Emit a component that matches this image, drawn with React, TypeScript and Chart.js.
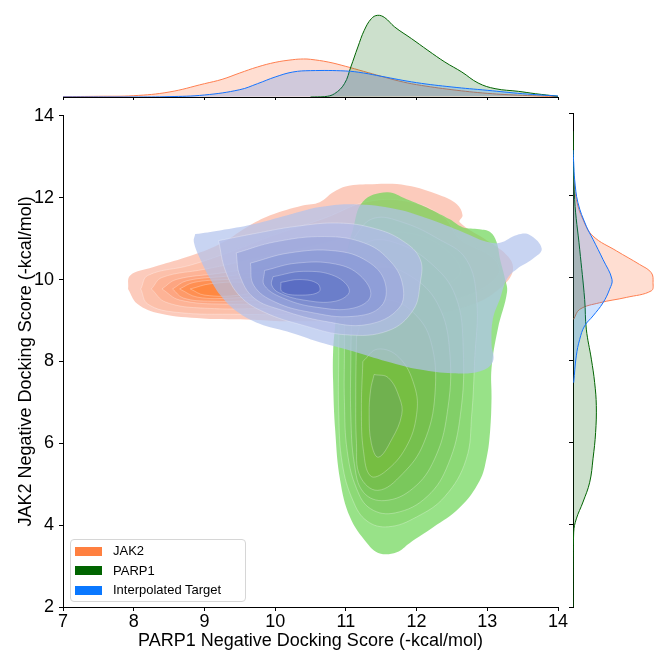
import { useEffect, useRef } from "react";
import { Chart, registerables } from "chart.js";

Chart.register(...registerables);

// ---------------- DATA ----------------
const seriesNames = ["JAK2", "PARP1", "Interpolated Target"];
const xTicks = [7, 8, 9, 10, 11, 12, 13, 14];
const yTicks = [2, 4, 6, 8, 10, 12, 14];

// JAK2 2D density contour levels (outer -> inner), [x, y]
const jak2L1 = [[7.92,9.77],[7.95,10.1],[8.27,10.3],[8.75,10.55],[9.22,10.87],[9.6,11.28],[9.93,11.57],[10.39,11.81],[10.63,11.89],[10.82,12.13],[11.01,12.28],[11.38,12.33],[11.86,12.3],[12.33,12.06],[12.57,11.84],[12.65,11.57],[12.61,11.4],[13.0,10.95],[13.3,10.55],[13.36,10.2],[13.2,9.82],[12.8,9.4],[12.0,9.1],[11.0,9.0],[10.2,8.98],[9.69,9.02],[8.98,9.05],[8.37,9.17],[8.05,9.41]];
const jak2L2 = [[8.1,9.77],[8.2,10.1],[8.8,10.35],[9.4,10.7],[10.0,11.1],[10.7,11.5],[11.3,11.9],[11.9,11.9],[12.4,11.5],[12.6,11.0],[13.1,10.5],[13.15,10.1],[12.7,9.6],[11.8,9.25],[10.5,9.15],[9.5,9.15],[8.6,9.2],[8.2,9.4]];
const jak2L3 = [[8.25,9.77],[8.4,10.05],[9.0,10.25],[9.7,10.5],[10.5,10.8],[11.3,11.1],[12.0,11.1],[12.5,10.6],[12.6,10.1],[12.0,9.6],[11.0,9.35],[10.0,9.3],[9.0,9.3],[8.45,9.45]];
const jak2L4 = [[8.4,9.77],[8.6,10.0],[9.2,10.15],[10.0,10.35],[10.8,10.5],[11.5,10.4],[11.7,10.0],[11.2,9.6],[10.3,9.45],[9.3,9.4],[8.65,9.5]];
const jak2L5 = [[8.55,9.77],[8.75,9.97],[9.3,10.08],[10.0,10.2],[10.7,10.2],[11.0,9.9],[10.6,9.6],[9.8,9.5],[9.1,9.47],[8.7,9.55]];
const jak2L6 = [[8.65,9.77],[8.85,9.93],[9.3,10.0],[9.9,10.05],[10.3,9.9],[10.0,9.65],[9.4,9.55],[8.9,9.57]];
const jak2L7 = [[8.8,9.77],[9.1,9.9],[9.6,9.92],[9.8,9.78],[9.5,9.62],[9.0,9.62]];

// PARP1 2D density contour levels
const parp1L1 = [[10.85,8.9],[10.92,9.77],[11.01,10.6],[11.1,11.23],[11.24,11.9],[11.58,12.13],[11.86,11.96],[12.19,11.72],[12.47,11.47],[12.65,11.28],[12.89,11.23],[13.04,11.16],[13.13,10.92],[13.18,10.5],[13.25,10.02],[13.28,9.7],[13.15,8.8],[13.06,7.83],[13.06,7.1],[13.04,6.3],[12.99,5.64],[12.89,5.08],[12.61,4.43],[12.23,3.94],[11.9,3.56],[11.72,3.34],[11.48,3.31],[11.3,3.56],[11.06,4.19],[10.92,5.09],[10.85,6.3],[10.82,7.51],[10.82,8.24]];
const parp1L2 = [[10.91,9.5],[11.0,10.5],[11.15,11.1],[11.4,11.5],[11.8,11.4],[12.3,11.0],[12.7,10.5],[12.85,9.5],[12.82,8.0],[12.78,6.7],[12.7,5.6],[12.4,4.7],[12.0,4.2],[11.6,3.96],[11.3,4.1],[11.1,4.6],[10.95,5.5],[10.9,6.7],[10.9,8.2]];
const parp1L3 = [[10.98,9.2],[11.1,10.3],[11.3,10.9],[11.7,10.9],[12.2,10.4],[12.55,9.6],[12.66,8.3],[12.62,6.7],[12.45,5.5],[12.15,4.7],[11.7,4.3],[11.35,4.4],[11.15,4.9],[11.02,5.8],[10.98,7.0],[10.98,8.3]];
const parp1L4 = [[11.08,9.0],[11.2,9.9],[11.45,10.3],[11.9,10.1],[12.3,9.4],[12.47,8.2],[12.43,6.7],[12.25,5.6],[11.95,4.9],[11.55,4.6],[11.25,4.8],[11.12,5.5],[11.07,6.7],[11.07,8.0]];
const parp1L5 = [[11.15,8.6],[11.3,9.3],[11.6,9.5],[11.95,9.2],[12.2,8.5],[12.26,7.2],[12.1,6.0],[11.8,5.25],[11.45,4.85],[11.2,5.2],[11.15,6.0],[11.14,7.2]];
const parp1L6 = [[11.24,8.0],[11.45,8.3],[11.75,8.1],[11.97,7.4],[12.0,6.7],[11.85,5.9],[11.55,5.3],[11.35,5.2],[11.25,5.8],[11.22,6.8]];
const parp1L7 = [[11.4,7.68],[11.6,7.6],[11.76,7.1],[11.79,6.7],[11.65,6.1],[11.46,5.66],[11.36,6.0],[11.33,6.71],[11.35,7.3]];

// Interpolated Target 2D density contour levels
const interpL1 = [[8.87,11.11],[9.22,11.2],[9.69,11.35],[10.17,11.57],[10.63,11.77],[11.1,11.84],[11.72,11.72],[12.19,11.47],[12.65,11.16],[12.99,10.92],[13.18,10.9],[13.42,11.09],[13.6,11.09],[13.77,10.75],[13.64,10.5],[13.42,10.26],[13.28,10.02],[13.18,9.53],[13.08,9.04],[13.06,8.41],[13.08,8.0],[12.9,7.76],[12.51,7.71],[12.05,7.8],[11.58,8.0],[11.1,8.25],[10.63,8.47],[10.17,8.73],[9.78,8.92],[9.46,9.22],[9.22,9.63],[9.08,10.02],[8.94,10.5],[8.85,10.92]];
const interpL2 = [[9.2,10.95],[9.7,11.12],[10.3,11.3],[10.9,11.38],[11.4,11.25],[11.8,10.95],[12.05,10.5],[12.05,9.9],[11.95,9.25],[11.6,8.75],[11.0,8.65],[10.4,8.88],[9.85,9.2],[9.5,9.6],[9.3,10.2]];
const interpL3 = [[9.45,10.65],[10.0,10.92],[10.7,11.05],[11.25,10.9],[11.6,10.5],[11.8,9.9],[11.75,9.3],[11.3,8.9],[10.7,8.98],[10.1,9.25],[9.7,9.55],[9.5,10.1]];
const interpL4 = [[9.65,10.4],[10.2,10.65],[10.85,10.7],[11.3,10.45],[11.55,9.95],[11.5,9.35],[11.1,9.1],[10.5,9.2],[10.0,9.45],[9.7,9.85]];
const interpL5 = [[9.85,10.22],[10.3,10.4],[10.85,10.38],[11.2,10.1],[11.35,9.6],[11.1,9.3],[10.6,9.32],[10.15,9.52],[9.85,9.85]];
const interpL6 = [[9.97,10.07],[10.4,10.2],[10.85,10.08],[11.05,9.72],[10.85,9.47],[10.4,9.5],[10.05,9.68],[9.95,9.87]];
const interpL7 = [[10.08,9.93],[10.35,10.0],[10.6,9.9],[10.62,9.7],[10.35,9.62],[10.1,9.7]];

// Top marginal densities (x -> density)
const jak2TopX = [7, 7.5, 8, 8.5, 9, 9.25, 9.5, 9.75, 10, 10.25, 10.4, 10.5, 10.75, 11, 11.25, 11.5, 11.75, 12, 12.5, 13, 13.5, 14];
const jak2TopD = [0.004, 0.008, 0.015, 0.057, 0.153, 0.203, 0.276, 0.345, 0.398, 0.429, 0.437, 0.433, 0.402, 0.352, 0.295, 0.238, 0.184, 0.142, 0.084, 0.042, 0.019, 0.004];
const parp1TopX = [10.5, 10.7, 10.84, 10.98, 11.07, 11.17, 11.26, 11.36, 11.45, 11.55, 11.69, 11.93, 12.16, 12.4, 12.64, 12.87, 13.11, 13.44, 13.68, 14];
const parp1TopD = [0, 0.004, 0.038, 0.153, 0.345, 0.575, 0.766, 0.9, 0.939, 0.912, 0.805, 0.67, 0.536, 0.402, 0.287, 0.161, 0.096, 0.065, 0.038, 0.008];
const interpTopX = [7, 8, 8.5, 9, 9.5, 9.75, 10, 10.25, 10.5, 11, 11.25, 11.5, 12, 12.5, 13, 13.5, 14];
const interpTopD = [0, 0, 0.004, 0.023, 0.084, 0.153, 0.23, 0.287, 0.303, 0.299, 0.276, 0.238, 0.165, 0.115, 0.077, 0.038, 0.011];

// Right marginal densities (y -> density)
const jak2RightY = [12.75, 12.46, 11.9, 11.41, 11.01, 10.65, 10.32, 10.12, 9.88, 9.68, 9.52, 9.39, 9.23, 8.99];
const jak2RightD = [0, 0.008, 0.038, 0.115, 0.23, 0.5, 0.766, 0.9, 0.92, 0.9, 0.613, 0.306, 0.077, 0.008];
const parp1RightY = [13.56, 11.9, 10.69, 9.47, 8.75, 8.02, 7.45, 6.89, 6.24, 5.6, 5.03, 4.55, 4.14, 3.82, 2.6, 2.0];
const parp1RightD = [0, 0.019, 0.077, 0.134, 0.153, 0.211, 0.249, 0.268, 0.26, 0.23, 0.192, 0.115, 0.038, 0.008, 0, 0];
const interpRightY = [13.1, 12.79, 12.38, 11.82, 11.25, 10.93, 10.44, 9.96, 9.72, 9.39, 9.07, 8.83, 8.5, 8.1, 7.45];
const interpRightD = [0, 0.008, 0.019, 0.057, 0.153, 0.23, 0.345, 0.448, 0.421, 0.345, 0.23, 0.134, 0.077, 0.038, 0.008];

// ---------------- STYLE ----------------
const FONT = "'Liberation Sans', Arial, Helvetica, sans-serif";
const ALPHA = 0.7;
const jak2Looks = [[252,203,188],[252,191,170],[253,179,150],[254,166,128],[255,154,105],[255,143,82],[255,136,66]];
const parp1Looks = [[152,226,136],[140,216,118],[130,207,104],[123,199,92],[119,193,78],[118,190,66],[112,177,80]];
const interpLooks = [[200,212,242],[184,194,234],[164,175,224],[144,158,216],[126,142,208],[108,126,202],[90,110,196]];
const lineColors = ["rgb(255,127,80)", "rgb(0,100,0)", "rgb(20,115,255)"];
const fillColors = ["rgba(255,127,80,0.26)", "rgba(0,100,0,0.2)", "rgba(20,115,255,0.2)"];
const swatchColors = ["#ff8040", "#006400", "#0a78ff"];

function layerColors(looks: number[][], alpha: number): string[] {
  let prev = [255, 255, 255];
  return looks.map((t) => {
    const c = t.map((v, k) => Math.max(0, Math.min(255, Math.round((v - (1 - alpha) * prev[k]) / alpha))));
    prev = t;
    return `rgba(${c[0]},${c[1]},${c[2]},${alpha})`;
  });
}

function closed(pts: number[][]) {
  return pts.concat([pts[0]]).map(([x, y]) => ({ x, y }));
}

function contourSets(levels: number[][][], looks: number[][]) {
  const cols = layerColors(looks, ALPHA);
  return levels.map((pts, i) => ({
    data: closed(pts),
    fill: "shape",
    backgroundColor: cols[i],
    borderColor: i === 0 ? "rgba(0,0,0,0)" : "rgba(255,255,255,0.35)",
    borderWidth: i === 0 ? 0 : 0.8,
    pointRadius: 0,
    tension: 0.4,
  }));
}

function withOrder(sets: any[]) {
  // first in list drawn first (bottom)
  const n = sets.length;
  return sets.map((s, i) => ({ ...s, order: n - i }));
}

const tickFont = { size: 18, family: FONT };
const titleFont = { size: 18, family: FONT };

export default function App() {
  const mainRef = useRef<HTMLCanvasElement>(null);
  const topRef = useRef<HTMLCanvasElement>(null);
  const rightRef = useRef<HTMLCanvasElement>(null);

  useEffect(() => {
    Chart.defaults.font.family = FONT;
    Chart.defaults.color = "#000";

    const mainSets = withOrder([
      ...contourSets([jak2L1, jak2L2, jak2L3, jak2L4, jak2L5, jak2L6, jak2L7], jak2Looks),
      ...contourSets([parp1L1, parp1L2, parp1L3, parp1L4, parp1L5, parp1L6, parp1L7], parp1Looks),
      ...contourSets([interpL1, interpL2, interpL3, interpL4, interpL5, interpL6, interpL7], interpLooks),
    ]);

    const main = new Chart(mainRef.current!, {
      type: "line",
      data: { datasets: mainSets as any },
      options: {
        animation: false,
        responsive: false,
        layout: { padding: { top: 13, right: 12, left: 0, bottom: 0 } },
        plugins: { legend: { display: false }, tooltip: { enabled: false } },
        scales: {
          x: {
            type: "linear",
            min: 7,
            max: 14,
            afterBuildTicks: (s: any) => { s.ticks = xTicks.map((v) => ({ value: v })); },
            ticks: { font: tickFont, padding: 0, color: "#000", maxRotation: 0 },
            grid: { display: true, drawOnChartArea: false, drawTicks: true, tickLength: 4, color: "#000", lineWidth: 1 },
            border: { display: true, color: "#000", width: 1 },
            title: { display: true, text: "PARP1 Negative Docking Score (-kcal/mol)", font: titleFont, padding: 0, color: "#000" },
            afterFit: (s: any) => { s.height = 45; },
          },
          y: {
            type: "linear",
            min: 2,
            max: 14,
            afterBuildTicks: (s: any) => { s.ticks = yTicks.map((v) => ({ value: v })); },
            ticks: { font: tickFont, padding: 5, color: "#000" },
            grid: { display: true, drawOnChartArea: false, drawTicks: true, tickLength: 4, color: "#000", lineWidth: 1 },
            border: { display: true, color: "#000", width: 1 },
            title: { display: true, text: "JAK2 Negative Docking Score (-kcal/mol)", font: titleFont, padding: { top: 15, bottom: 0 }, color: "#000" },
            afterFit: (s: any) => { s.width = 63; },
          },
        },
      },
    });

    const margSet = (xs: number[], ds: number[], i: number, vertical: boolean) => ({
      data: xs.map((v, k) => (vertical ? { x: ds[k], y: v } : { x: v, y: ds[k] })),
      fill: "shape",
      backgroundColor: fillColors[i],
      borderColor: lineColors[i],
      borderWidth: 1,
      pointRadius: 0,
      tension: 0.4,
    });

    const top = new Chart(topRef.current!, {
      type: "line",
      data: {
        datasets: withOrder([
          margSet(jak2TopX, jak2TopD, 0, false),
          margSet(parp1TopX, parp1TopD, 1, false),
          margSet(interpTopX, interpTopD, 2, false),
        ]) as any,
      },
      options: {
        animation: false,
        responsive: false,
        layout: { padding: { top: 10, right: 12, left: 63, bottom: 0 } },
        plugins: { legend: { display: false }, tooltip: { enabled: false } },
        scales: {
          x: {
            type: "linear",
            min: 7,
            max: 14,
            afterBuildTicks: (s: any) => { s.ticks = xTicks.map((v) => ({ value: v })); },
            ticks: { display: false },
            grid: { display: true, drawOnChartArea: false, drawTicks: true, tickLength: 4, color: "#000", lineWidth: 1 },
            border: { display: true, color: "#000", width: 1 },
            afterFit: (s: any) => { s.height = 3; },
          },
          y: { type: "linear", min: 0, max: 1.0, display: false },
        },
      },
    });

    const right = new Chart(rightRef.current!, {
      type: "line",
      data: {
        datasets: withOrder([
          margSet(jak2RightY, jak2RightD, 0, true),
          margSet(parp1RightY, parp1RightD, 1, true),
          margSet(interpRightY, interpRightD, 2, true),
        ]) as any,
      },
      options: {
        animation: false,
        responsive: false,
        layout: { padding: { top: 13, right: 0, left: 0, bottom: 45 } },
        plugins: { legend: { display: false }, tooltip: { enabled: false } },
        scales: {
          x: { type: "linear", min: 0, max: 0.931, display: false },
          y: {
            type: "linear",
            position: "left",
            min: 2,
            max: 14,
            afterBuildTicks: (s: any) => { s.ticks = yTicks.map((v) => ({ value: v })); },
            ticks: { display: false },
            grid: { display: true, drawOnChartArea: false, drawTicks: true, tickLength: 4, color: "#000", lineWidth: 1 },
            border: { display: true, color: "#000", width: 1 },
            afterFit: (s: any) => { s.width = 8; },
          },
        },
      },
    });

    return () => {
      main.destroy();
      top.destroy();
      right.destroy();
    };
  }, []);

  return (
    <div style={{ position: "fixed", left: 0, top: 0, width: 654, height: 652, background: "#fff", overflow: "hidden" }}>
      <canvas ref={topRef} width={570} height={100} style={{ position: "absolute", left: 0, top: 0, width: 570, height: 100 }} />
      <canvas ref={mainRef} width={570} height={552} style={{ position: "absolute", left: 0, top: 100, width: 570, height: 552 }} />
      <canvas ref={rightRef} width={89} height={552} style={{ position: "absolute", left: 565, top: 100, width: 89, height: 552 }} />
      <div
        style={{
          position: "absolute",
          left: 70,
          top: 539,
          width: 174,
          height: 61,
          border: "1px solid #d6d6d6",
          borderRadius: 4,
          background: "rgba(255,255,255,0.8)",
          fontFamily: FONT,
          fontSize: 13,
          color: "#000",
        }}
      >
        {seriesNames.map((name, i) => (
          <div key={name} style={{ position: "absolute", left: 4, top: 6 + i * 19.5, height: 10, display: "flex", alignItems: "center", whiteSpace: "nowrap" }}>
            <span style={{ display: "inline-block", width: 27, height: 9, background: swatchColors[i] }} />
            <span style={{ marginLeft: 11, lineHeight: "10px" }}>{name}</span>
          </div>
        ))}
      </div>
    </div>
  );
}
